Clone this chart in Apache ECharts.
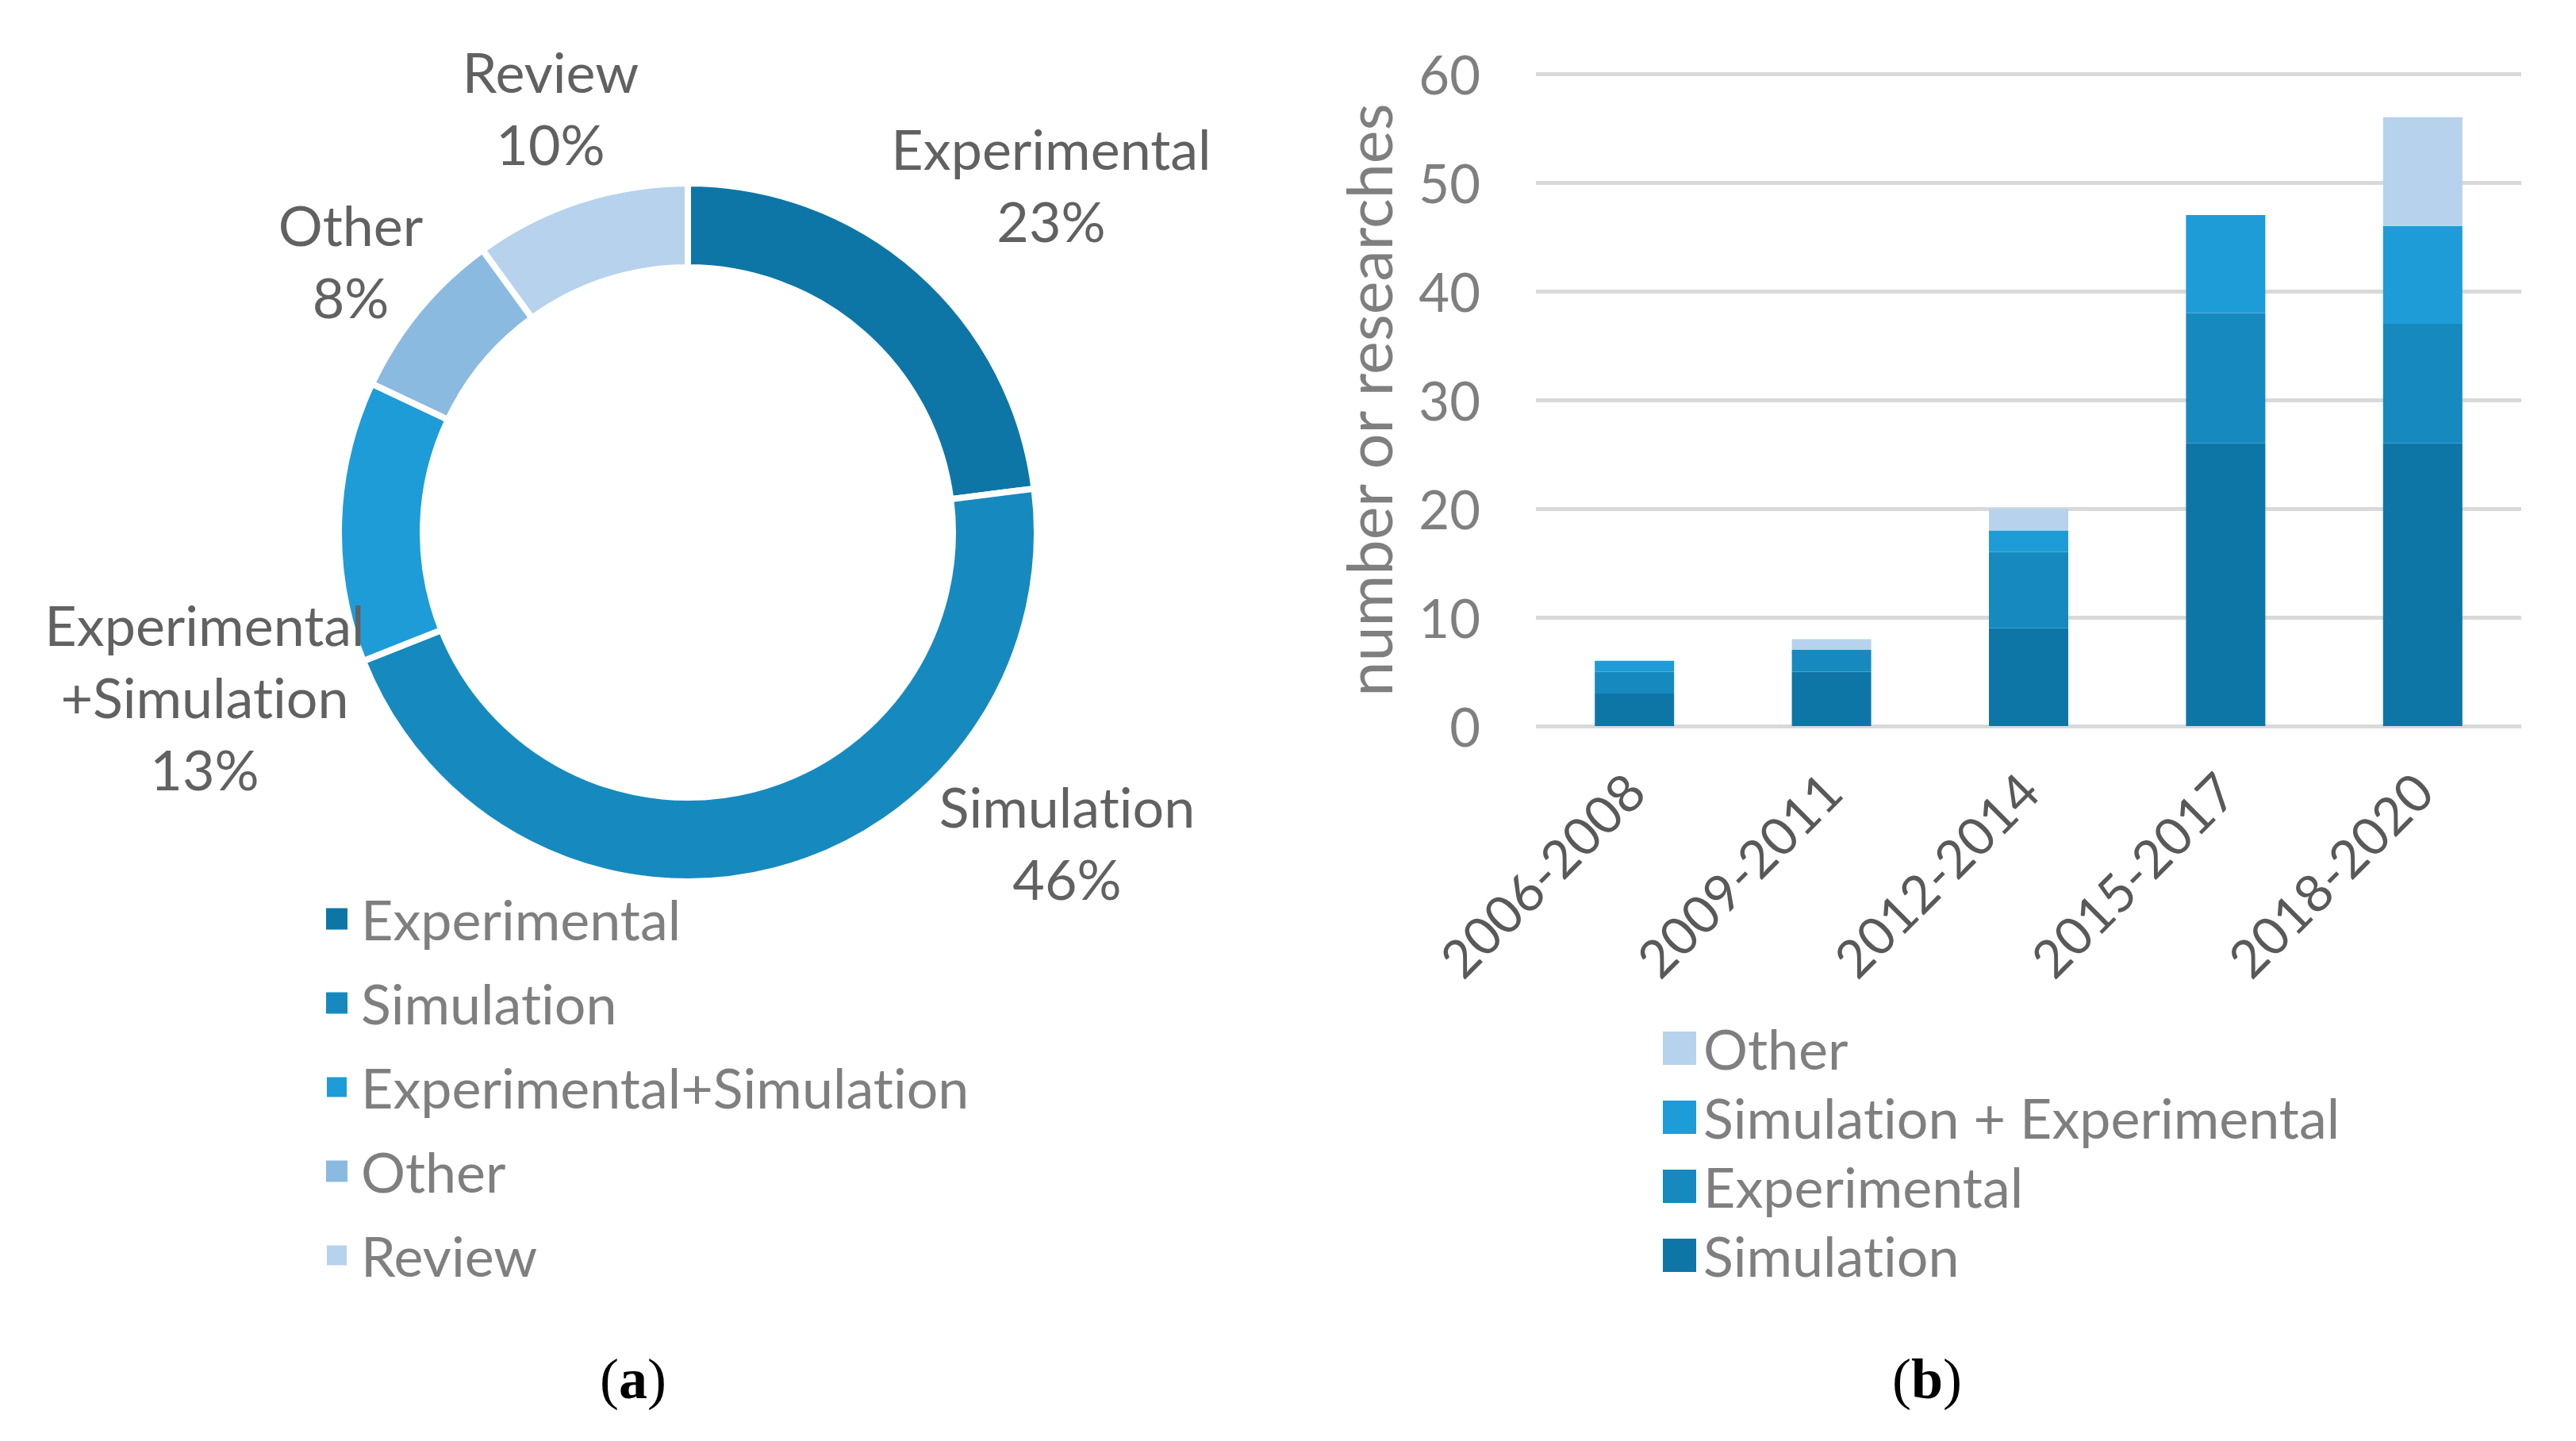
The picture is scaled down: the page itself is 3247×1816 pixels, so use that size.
<!DOCTYPE html>
<html>
<head>
<meta charset="utf-8">
<script src="https://cdn.jsdelivr.net/npm/echarts@6/dist/echarts.min.js"></script>
<style>
  html, body { margin: 0; padding: 0; background: #fff; }
  #chart { width: 3247px; height: 1816px; }
  #chart text { font-variant-ligatures: none; font-feature-settings: "liga" 0, "clig" 0, "dlig" 0; }
</style>
</head>
<body>
<div id="chart"></div>
<script>
// ---- data ----
const pieCategories = ['Experimental', 'Simulation', 'Experimental+Simulation', 'Other', 'Review'];
const pieLabelNames = ['Experimental', 'Simulation', 'Experimental\n+Simulation', 'Other', 'Review'];
const pieValues = [23, 46, 13, 8, 10];

const periods = ['2006-2008', '2009-2011', '2012-2014', '2015-2017', '2018-2020'];
const barSeriesNames = ['Simulation', 'Experimental', 'Simulation + Experimental', 'Other'];
const simulationVals = [3, 5, 9, 26, 26];
const experimentalVals = [2, 2, 7, 12, 11];
const simExpVals = [1, 0, 2, 9, 9];
const otherVals = [0, 1, 2, 0, 10];
const yTicks = [0, 10, 20, 30, 40, 50, 60];

// ---- styles ----
const FONT = 'Lato';
const FS = 70;
const pieColors = ['#0E76A6', '#168ABF', '#1E9CD8', '#8BBAE1', '#B7D2EC'];
const barColors = ['#0E76A6', '#168ABF', '#1E9CD8', '#B7D2EC'];
const pieLabelPos = [[1325, 232], [1345, 1061], [258, 878], [442, 328], [694, 135]];

const barValueSets = [simulationVals, experimentalVals, simExpVals, otherVals];

const chart = echarts.init(document.getElementById('chart'), null, { renderer: 'svg' });

const barSeries = barSeriesNames.map((name, i) => ({
  name: name,
  type: 'bar',
  stack: 'total',
  barWidth: 100,
  data: barValueSets[i],
  itemStyle: { color: barColors[i] },
  emphasis: { disabled: true }
}));

const capStyle = {
  fontFamily: 'Liberation Serif', fontSize: 72, color: '#000', fontWeight: 'normal',
  rich: { b: { fontFamily: 'Liberation Serif', fontSize: 72, fontWeight: 'bold', color: '#000' } }
};

const option = {
  backgroundColor: '#fff',
  animation: false,
  title: [
    { text: '({b|a})', left: 793, top: 1733, textAlign: 'center', textVerticalAlign: 'middle', textStyle: capStyle },
    { text: '({b|b})', left: 2424, top: 1733, textAlign: 'center', textVerticalAlign: 'middle', textStyle: capStyle }
  ],
  legend: [
    {
      orient: 'vertical',
      left: 405, top: 1118,
      itemWidth: 27, itemHeight: 27, itemGap: 36,
      icon: 'rect',
      selectedMode: false,
      data: pieCategories.map((n, i) => ({ name: n, itemStyle: { color: pieColors[i] } })),
      textStyle: { fontFamily: FONT, fontSize: FS, color: '#7F7F7F', lineHeight: 62, padding: [0, 0, 0, 12] }
    },
    {
      orient: 'vertical',
      left: 2091, top: 1281,
      itemWidth: 42, itemHeight: 42, itemGap: 17,
      icon: 'rect',
      selectedMode: false,
      data: barSeriesNames.slice().reverse().map((n) => ({ name: n, itemStyle: { color: barColors[barSeriesNames.indexOf(n)] } })),
      textStyle: { fontFamily: FONT, fontSize: FS, color: '#7F7F7F', lineHeight: 62, padding: [0, 0, 0, 4] }
    }
  ],
  grid: { left: 1936, top: 93, width: 1242, height: 822, containLabel: false },
  xAxis: {
    type: 'category',
    data: periods,
    axisLine: { show: false },
    axisTick: { show: false },
    axisLabel: { rotate: 45, margin: 70, fontFamily: FONT, fontSize: 66, color: '#595959', interval: 0 }
  },
  yAxis: {
    type: 'value',
    min: yTicks[0], max: yTicks[yTicks.length - 1], interval: 10,
    name: 'number or researches',
    nameLocation: 'middle',
    nameGap: 172,
    nameRotate: 90,
    nameTextStyle: { fontFamily: FONT, fontSize: 79, color: '#7F7F7F' },
    axisLine: { show: false },
    axisTick: { show: false },
    axisLabel: { margin: 70, fontFamily: FONT, fontSize: 67, color: '#7F7F7F' },
    splitLine: { lineStyle: { color: '#D9D9D9', width: 5 } }
  },
  series: [
    {
      type: 'pie',
      center: [867, 671],
      radius: [334, 440],
      startAngle: 90,
      clockwise: true,
      silent: true,
      data: pieCategories.map((n, i) => ({ name: n, value: pieValues[i], itemStyle: { color: pieColors[i] } })),
      itemStyle: { borderColor: '#fff', borderWidth: 8 },
      label: {
        show: true,
        position: 'outside',
        overflow: 'none',
        edgeDistance: 0,
        bleedMargin: 0,
        formatter: (p) => pieLabelNames[p.dataIndex] + '\n' + p.percent.toFixed(0) + '%',
        fontFamily: FONT, fontSize: FS, color: '#616161', lineHeight: 91, align: 'center'
      },
      labelLine: { show: false },
      labelLayout: (p) => ({ x: pieLabelPos[p.dataIndex][0], y: pieLabelPos[p.dataIndex][1], align: 'center', verticalAlign: 'middle' })
    },
    ...barSeries
  ]
};
chart.setOption(option);
</script>
</body>
</html>
